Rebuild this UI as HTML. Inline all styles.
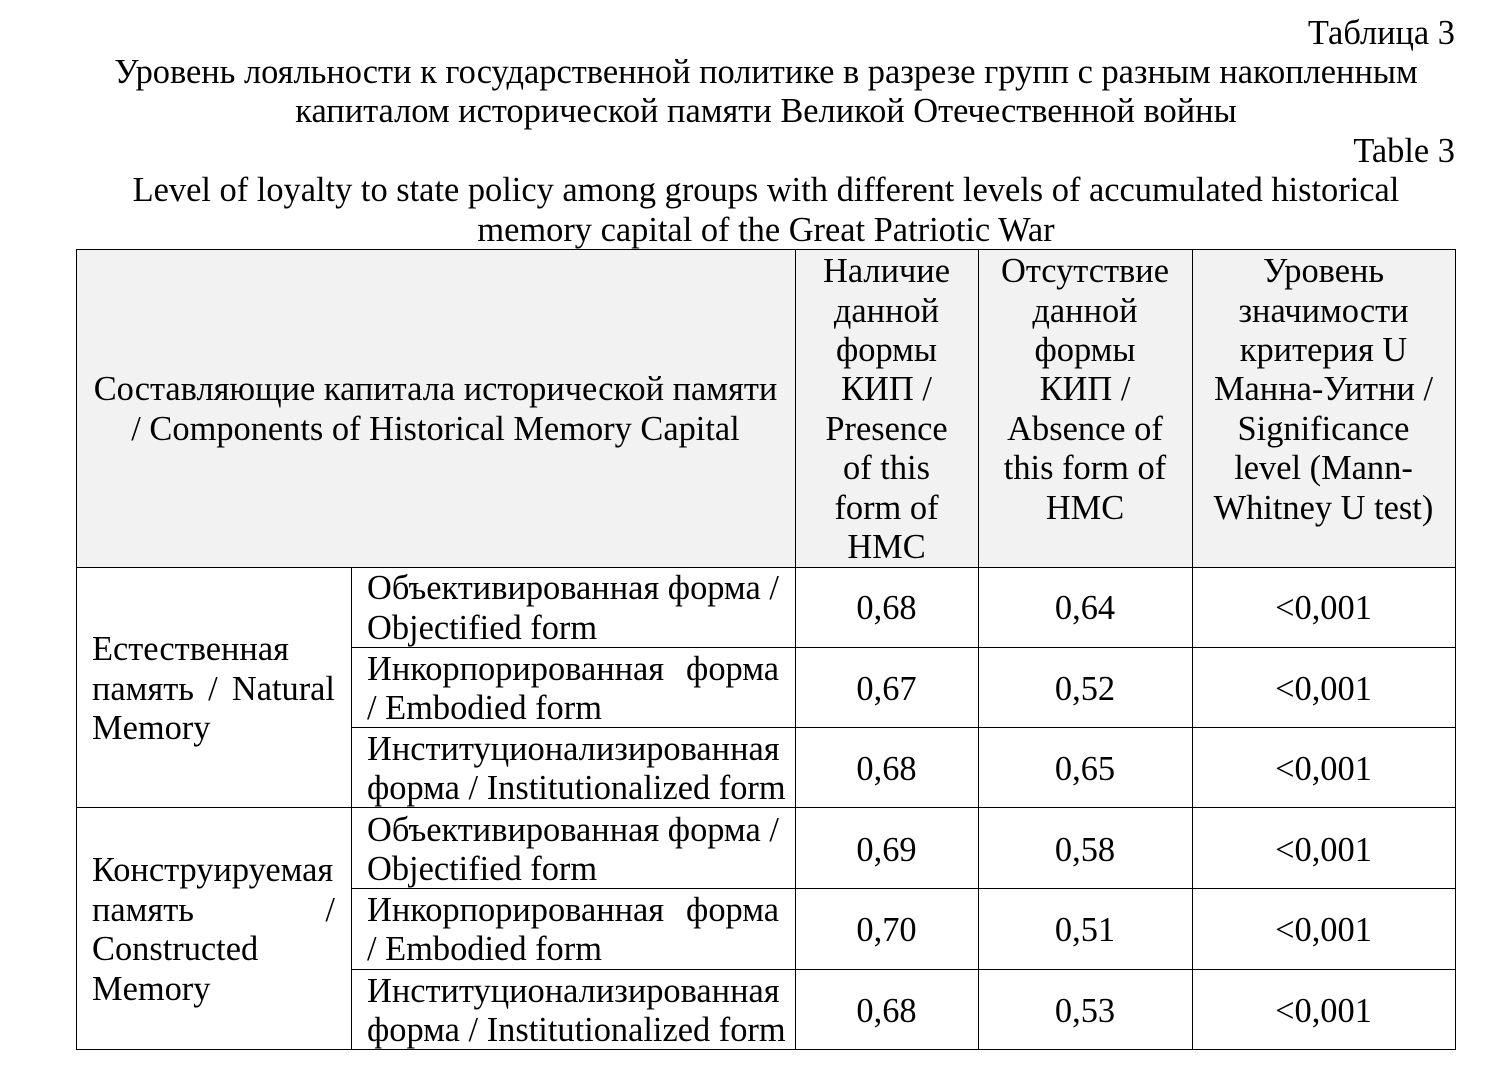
<!DOCTYPE html>
<html><head><meta charset="utf-8">
<style>
body{margin:0;background:#fff;}
#p{position:relative;width:1499px;height:1084px;font-family:"Liberation Serif","Noto Serif CJK SC",serif;font-size:34.4px;color:#000;overflow:hidden}
.l{position:absolute;height:40px;line-height:40px;white-space:nowrap}
.c{text-align:center}
.r{text-align:right}
.j{text-align:justify;text-align-last:justify;white-space:normal}
.h{position:absolute;background:#000;height:1px}
.v{position:absolute;background:#000;width:1px}
</style></head><body><div id="p">
<div class="l r" style="left:0;width:1455px;top:13px">Таблица 3</div>
<div class="l c" style="left:0;width:1532px;top:52px">Уровень лояльности к государственной политике в разрезе групп с разным накопленным</div>
<div class="l c" style="left:0;width:1532px;top:91px">капиталом исторической памяти Великой Отечественной войны</div>
<div class="l r" style="left:0;width:1455px;top:131px">Table 3</div>
<div class="l c" style="left:0;width:1532px;top:170px">Level of loyalty to state policy among groups with different levels of accumulated historical</div>
<div class="l c" style="left:0;width:1532px;top:210px">memory capital of the Great Patriotic War</div>

<div style="position:absolute;left:76px;top:249px;width:1379px;height:318px;background:#f2f2f2"></div>

<div class="l c" style="left:76px;width:719px;top:369px">Составляющие капитала исторической памяти</div>
<div class="l c" style="left:76px;width:719px;top:409px">/ Components of Historical Memory Capital</div>

<div class="l c" style="left:795px;width:183px;top:251px">Наличие</div>
<div class="l c" style="left:795px;width:183px;top:291px">данной</div>
<div class="l c" style="left:795px;width:183px;top:330px">формы</div>
<div class="l c" style="left:795px;width:183px;top:369px">КИП /</div>
<div class="l c" style="left:795px;width:183px;top:409px">Presence</div>
<div class="l c" style="left:795px;width:183px;top:448px">of this</div>
<div class="l c" style="left:795px;width:183px;top:488px">form of</div>
<div class="l c" style="left:795px;width:183px;top:527px">HMC</div>

<div class="l c" style="left:978px;width:214px;top:251px">Отсутствие</div>
<div class="l c" style="left:978px;width:214px;top:291px">данной</div>
<div class="l c" style="left:978px;width:214px;top:330px">формы</div>
<div class="l c" style="left:978px;width:214px;top:369px">КИП /</div>
<div class="l c" style="left:978px;width:214px;top:409px">Absence of</div>
<div class="l c" style="left:978px;width:214px;top:448px">this form of</div>
<div class="l c" style="left:978px;width:214px;top:488px">HMC</div>

<div class="l c" style="left:1192px;width:263px;top:251px">Уровень</div>
<div class="l c" style="left:1192px;width:263px;top:291px">значимости</div>
<div class="l c" style="left:1192px;width:263px;top:330px">критерия U</div>
<div class="l c" style="left:1192px;width:263px;top:369px">Манна-Уитни /</div>
<div class="l c" style="left:1192px;width:263px;top:409px">Significance</div>
<div class="l c" style="left:1192px;width:263px;top:448px">level (Mann-</div>
<div class="l c" style="left:1192px;width:263px;top:488px">Whitney U test)</div>

<div class="l" style="left:92px;top:629px">Естественная</div>
<div class="l j" style="left:92px;width:243px;top:669px">память / Natural</div>
<div class="l" style="left:92px;top:708px">Memory</div>
<div class="l" style="left:92px;top:850px">Конструируемая</div>
<div class="l j" style="left:92px;width:243px;top:890px">память /</div>
<div class="l" style="left:92px;top:929px">Constructed</div>
<div class="l" style="left:92px;top:969px">Memory</div>

<div class="l" style="left:367px;top:568px">Объективированная форма /</div>
<div class="l" style="left:367px;top:608px">Objectified form</div>
<div class="l j" style="left:367px;width:412px;top:649px">Инкорпорированная форма</div>
<div class="l" style="left:367px;top:688px">/ Embodied form</div>
<div class="l" style="left:367px;top:729px">Институционализированная</div>
<div class="l" style="left:367px;top:768px">форма / Institutionalized form</div>
<div class="l" style="left:367px;top:810px">Объективированная форма /</div>
<div class="l" style="left:367px;top:849px">Objectified form</div>
<div class="l j" style="left:367px;width:412px;top:890px">Инкорпорированная форма</div>
<div class="l" style="left:367px;top:929px">/ Embodied form</div>
<div class="l" style="left:367px;top:971px">Институционализированная</div>
<div class="l" style="left:367px;top:1010px">форма / Institutionalized form</div>

<div class="l c" style="left:795px;width:183px;top:588px">0,68</div>
<div class="l c" style="left:795px;width:183px;top:669px">0,67</div>
<div class="l c" style="left:795px;width:183px;top:749px">0,68</div>
<div class="l c" style="left:795px;width:183px;top:830px">0,69</div>
<div class="l c" style="left:795px;width:183px;top:910px">0,70</div>
<div class="l c" style="left:795px;width:183px;top:991px">0,68</div>

<div class="l c" style="left:978px;width:214px;top:588px">0,64</div>
<div class="l c" style="left:978px;width:214px;top:669px">0,52</div>
<div class="l c" style="left:978px;width:214px;top:749px">0,65</div>
<div class="l c" style="left:978px;width:214px;top:830px">0,58</div>
<div class="l c" style="left:978px;width:214px;top:910px">0,51</div>
<div class="l c" style="left:978px;width:214px;top:991px">0,53</div>

<div class="l c" style="left:1192px;width:263px;top:588px">&lt;0,001</div>
<div class="l c" style="left:1192px;width:263px;top:669px">&lt;0,001</div>
<div class="l c" style="left:1192px;width:263px;top:749px">&lt;0,001</div>
<div class="l c" style="left:1192px;width:263px;top:830px">&lt;0,001</div>
<div class="l c" style="left:1192px;width:263px;top:910px">&lt;0,001</div>
<div class="l c" style="left:1192px;width:263px;top:991px">&lt;0,001</div>

<div class="h" style="left:76px;width:1380px;top:249px"></div>
<div class="h" style="left:76px;width:1380px;top:567px"></div>
<div class="h" style="left:351px;width:1105px;top:647px"></div>
<div class="h" style="left:351px;width:1105px;top:727px"></div>
<div class="h" style="left:76px;width:1380px;top:807px"></div>
<div class="h" style="left:351px;width:1105px;top:888px"></div>
<div class="h" style="left:351px;width:1105px;top:969px"></div>
<div class="h" style="left:76px;width:1380px;top:1049px"></div>
<div class="v" style="left:76px;top:249px;height:801px"></div>
<div class="v" style="left:351px;top:567px;height:483px"></div>
<div class="v" style="left:795px;top:249px;height:801px"></div>
<div class="v" style="left:978px;top:249px;height:801px"></div>
<div class="v" style="left:1192px;top:249px;height:801px"></div>
<div class="v" style="left:1455px;top:249px;height:801px"></div>
</div></body></html>
